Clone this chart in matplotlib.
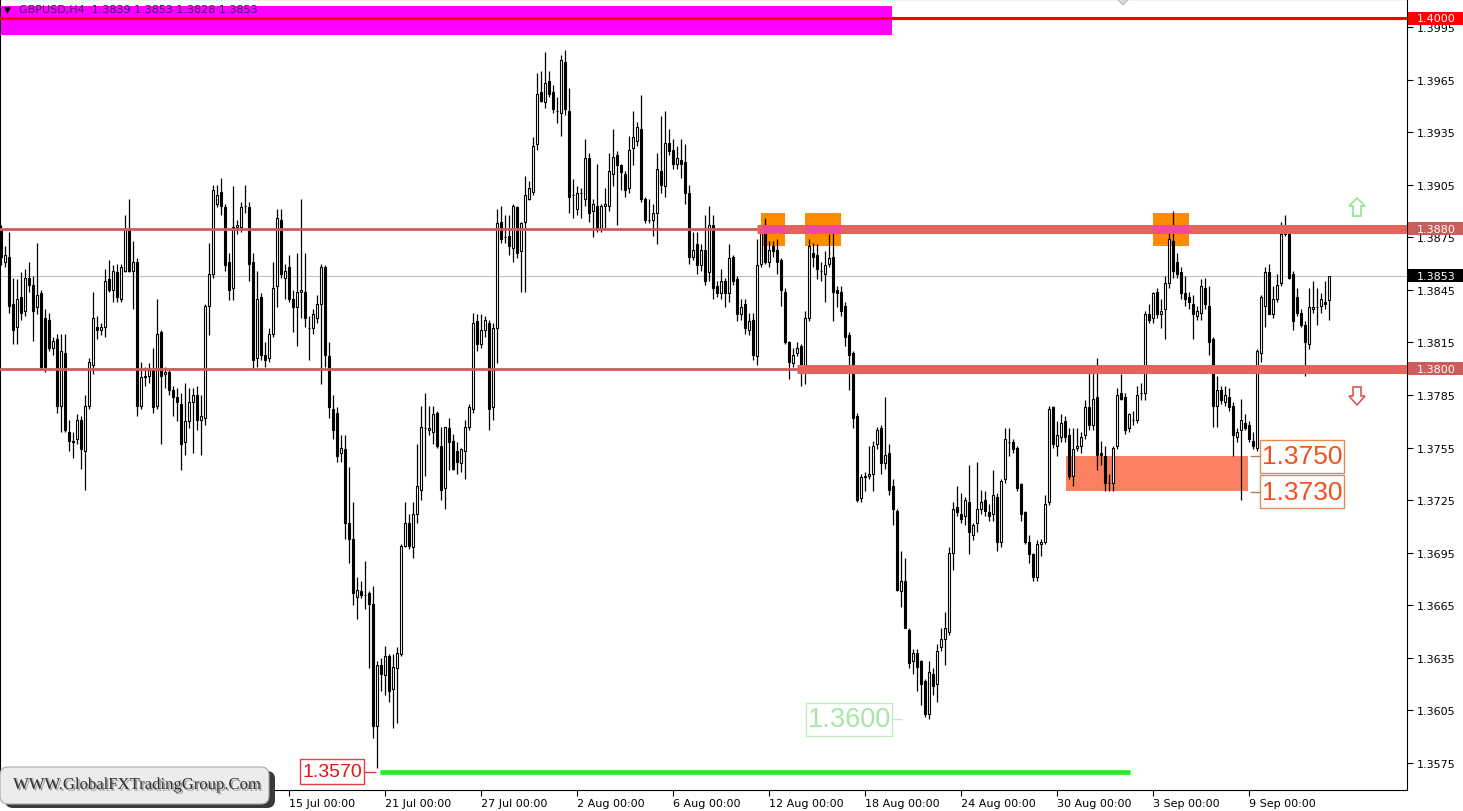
import matplotlib
matplotlib.use('Agg')
import matplotlib.pyplot as plt
import matplotlib.transforms as mtransforms
from matplotlib.patches import Rectangle, FancyBboxPatch, Polygon
import matplotlib.patheffects as pe
import numpy as np

# ---------------- data (GBPUSD H4) ----------------
opens = [
1.3879,1.3861,1.3864,1.3837,1.3824,1.3841,1.3833,1.3852,1.3848,1.3835,
1.3843,1.3829,1.3828,1.3812,1.3817,1.3779,1.3809,1.3764,1.3759,1.3760,
1.3771,1.3753,1.3779,1.3802,1.3824,1.3822,1.3824,1.3851,1.3845,1.3855,
1.3840,1.3856,1.3879,1.3856,1.3861,1.3779,1.3796,1.3796,1.3800,1.3779,
1.3821,1.3797,1.3798,1.3788,1.3784,1.3780,1.3758,1.3770,1.3781,1.3785,
1.3771,1.3772,1.3836,1.3854,1.3894,1.3901,1.3892,1.3861,1.3846,1.3881,
1.3881,1.3893,1.3892,1.3861,1.3806,1.3841,1.3808,1.3806,1.3820,1.3847,
1.3885,1.3852,1.3858,1.3840,1.3835,1.3844,1.3844,1.3823,1.3823,1.3829,
1.3837,1.3858,1.3807,1.3777,1.3775,1.3752,1.3754,1.3712,1.3703,1.3670,
1.3673,1.3671,1.3672,1.3666,1.3596,1.3631,1.3625,1.3636,1.3617,1.3629,
1.3637,1.3699,1.3712,1.3698,1.3717,1.3731,1.3766,1.3765,1.3764,1.3775,
1.3756,1.3732,1.3766,1.3759,1.3753,1.3746,1.3753,1.3767,1.3777,1.3827,
1.3814,1.3822,1.3826,1.3778,1.3823,1.3884,1.3875,1.3876,1.3869,1.3892,
1.3867,1.3884,1.3897,1.3901,1.3928,1.3958,1.3952,1.3964,1.3958,1.3947,
1.3946,1.3975,1.3947,1.3899,1.3891,1.3900,1.3897,1.3920,1.3890,1.3893,
1.3880,1.3893,1.3893,1.3911,1.3922,1.3916,1.3911,1.3903,1.3926,1.3930,
1.3937,1.3897,1.3885,1.3885,1.3889,1.3913,1.3904,1.3929,1.3925,1.3917,
1.3919,1.3918,1.3900,1.3864,1.3871,1.3859,1.3868,1.3855,1.3882,1.3847,
1.3843,1.3850,1.3843,1.3864,1.3851,1.3831,1.3837,1.3822,1.3828,1.3807,
1.3860,1.3878,1.3861,1.3870,1.3868,1.3862,1.3844,1.3815,1.3803,1.3809,
1.3813,1.3800,1.3829,1.3866,1.3865,1.3856,1.3854,1.3860,1.3864,1.3845,
1.3844,1.3836,1.3819,1.3809,1.3773,1.3726,1.3738,1.3739,1.3740,1.3757,
1.3766,1.3746,1.3752,1.3733,1.3719,1.3673,1.3679,1.3651,1.3633,1.3638,
1.3633,1.3622,1.3603,1.3626,1.3620,1.3641,1.3646,1.3650,1.3695,1.3721,
1.3717,1.3716,1.3724,1.3705,1.3712,1.3720,1.3725,1.3718,1.3717,1.3727,
1.3701,1.3737,1.3758,1.3758,1.3755,1.3734,1.3718,1.3701,1.3694,1.3681,
1.3700,1.3701,1.3724,1.3778,1.3756,1.3761,1.3770,1.3762,1.3739,1.3755,
1.3756,1.3762,1.3778,1.3768,1.3784,1.3752,1.3750,1.3735,1.3735,1.3756,
1.3786,1.3784,1.3766,1.3771,1.3771,1.3786,1.3786,1.3831,1.3829,1.3844,
1.3831,1.3834,1.3849,1.3873,1.3861,1.3855,1.3843,1.3841,1.3837,1.3830,
1.3832,1.3846,1.3836,1.3817,1.3779,1.3788,1.3781,1.3784,1.3779,1.3761,
1.3765,1.3769,1.3768,1.3759,1.3755,1.3809,1.3836,1.3855,1.3831,1.3840,
1.3849,1.3881,1.3877,1.3854,1.3841,1.3832,1.3825,1.3814,1.3834,1.3835,
1.3836,1.3838,1.3839]

highs = [
1.3882,1.3870,1.3878,1.3852,1.3851,1.3855,1.3857,1.3861,1.3853,1.3872,
1.3845,1.3834,1.3832,1.3818,1.3820,1.3820,1.3820,1.3771,1.3764,1.3774,
1.3773,1.3785,1.3806,1.3844,1.3830,1.3826,1.3857,1.3862,1.3859,1.3860,
1.3860,1.3888,1.3897,1.3873,1.3863,1.3804,1.3801,1.3803,1.3812,1.3840,
1.3822,1.3801,1.3800,1.3790,1.3789,1.3786,1.3792,1.3789,1.3789,1.3790,
1.3785,1.3837,1.3872,1.3905,1.3905,1.3909,1.3894,1.3866,1.3904,1.3885,
1.3895,1.3905,1.3895,1.3866,1.3856,1.3843,1.3815,1.3823,1.3861,1.3891,
1.3891,1.3860,1.3865,1.3845,1.3866,1.3897,1.3866,1.3830,1.3834,1.3842,
1.3860,1.3859,1.3815,1.3785,1.3778,1.3762,1.3762,1.3744,1.3724,1.3681,
1.3679,1.3690,1.3673,1.3676,1.3633,1.3635,1.3642,1.3637,1.3637,1.3641,
1.3700,1.3724,1.3717,1.3724,1.3757,1.3779,1.3786,1.3779,1.3779,1.3776,
1.3767,1.3767,1.3772,1.3763,1.3758,1.3755,1.3771,1.3780,1.3832,1.3831,
1.3831,1.3830,1.3828,1.3826,1.3891,1.3893,1.3888,1.3888,1.3894,1.3893,
1.3884,1.3910,1.3907,1.3932,1.3969,1.3970,1.3981,1.3970,1.3962,1.3955,
1.3979,1.3982,1.3960,1.3908,1.3904,1.3903,1.3931,1.3923,1.3897,1.3917,
1.3894,1.3903,1.3923,1.3937,1.3924,1.3917,1.3913,1.3933,1.3947,1.3941,
1.3956,1.3898,1.3897,1.3894,1.3923,1.3944,1.3947,1.3937,1.3931,1.3927,
1.3931,1.3928,1.3905,1.3878,1.3878,1.3871,1.3888,1.3893,1.3888,1.3850,
1.3857,1.3852,1.3871,1.3865,1.3853,1.3840,1.3840,1.3832,1.3832,1.3874,
1.3882,1.3886,1.3873,1.3873,1.3874,1.3863,1.3846,1.3816,1.3812,1.3815,
1.3814,1.3833,1.3874,1.3872,1.3871,1.3861,1.3867,1.3877,1.3878,1.3847,
1.3847,1.3838,1.3821,1.3810,1.3775,1.3740,1.3741,1.3756,1.3759,1.3767,
1.3768,1.3784,1.3757,1.3737,1.3720,1.3696,1.3692,1.3652,1.3640,1.3640,
1.3634,1.3623,1.3633,1.3629,1.3643,1.3652,1.3661,1.3698,1.3724,1.3733,
1.3729,1.3727,1.3745,1.3712,1.3747,1.3731,1.3730,1.3723,1.3742,1.3729,
1.3737,1.3766,1.3766,1.3760,1.3756,1.3735,1.3719,1.3705,1.3695,1.3702,
1.3703,1.3728,1.3779,1.3779,1.3770,1.3774,1.3773,1.3766,1.3766,1.3766,
1.3764,1.3782,1.3798,1.3798,1.3806,1.3759,1.3756,1.3740,1.3756,1.3789,
1.3797,1.3786,1.3775,1.3776,1.3790,1.3792,1.3833,1.3837,1.3844,1.3846,
1.3840,1.3853,1.3882,1.3890,1.3866,1.3858,1.3853,1.3844,1.3842,1.3836,
1.3851,1.3852,1.3847,1.3818,1.3796,1.3790,1.3790,1.3789,1.3781,1.3766,
1.3783,1.3774,1.3770,1.3764,1.3811,1.3842,1.3858,1.3860,1.3847,1.3854,
1.3884,1.3888,1.3879,1.3856,1.3846,1.3834,1.3827,1.3846,1.3850,1.3846,
1.3843,1.3850,1.3853]

lows = [
1.3859,1.3858,1.3832,1.3814,1.3814,1.3828,1.3830,1.3844,1.3816,1.3831,
1.3800,1.3798,1.3810,1.3808,1.3775,1.3764,1.3764,1.3753,1.3749,1.3757,
1.3743,1.3731,1.3777,1.3797,1.3817,1.3819,1.3818,1.3844,1.3838,1.3838,
1.3838,1.3855,1.3855,1.3834,1.3773,1.3777,1.3790,1.3792,1.3775,1.3777,
1.3757,1.3789,1.3785,1.3773,1.3770,1.3742,1.3751,1.3766,1.3752,1.3765,
1.3751,1.3768,1.3819,1.3852,1.3892,1.3888,1.3856,1.3839,1.3839,1.3877,
1.3878,1.3889,1.3850,1.3800,1.3801,1.3805,1.3801,1.3804,1.3818,1.3835,
1.3852,1.3840,1.3838,1.3821,1.3813,1.3829,1.3824,1.3805,1.3820,1.3826,
1.3791,1.3801,1.3772,1.3760,1.3747,1.3747,1.3703,1.3689,1.3665,1.3657,
1.3669,1.3663,1.3629,1.3589,1.3572,1.3616,1.3614,1.3610,1.3595,1.3598,
1.3636,1.3698,1.3697,1.3692,1.3712,1.3725,1.3739,1.3762,1.3757,1.3755,
1.3725,1.3720,1.3742,1.3742,1.3740,1.3741,1.3737,1.3765,1.3775,1.3810,
1.3812,1.3818,1.3765,1.3771,1.3803,1.3872,1.3872,1.3865,1.3861,1.3863,
1.3844,1.3844,1.3896,1.3899,1.3925,1.3952,1.3949,1.3955,1.3946,1.3940,
1.3933,1.3945,1.3889,1.3886,1.3888,1.3886,1.3893,1.3884,1.3875,1.3878,
1.3878,1.3880,1.3890,1.3904,1.3882,1.3902,1.3898,1.3900,1.3916,1.3927,
1.3895,1.3883,1.3883,1.3876,1.3871,1.3900,1.3898,1.3922,1.3914,1.3914,
1.3909,1.3894,1.3860,1.3862,1.3854,1.3856,1.3848,1.3850,1.3840,1.3841,
1.3840,1.3835,1.3838,1.3848,1.3827,1.3828,1.3820,1.3819,1.3805,1.3802,
1.3858,1.3860,1.3858,1.3864,1.3854,1.3836,1.3814,1.3794,1.3801,1.3807,
1.3790,1.3791,1.3827,1.3858,1.3851,1.3850,1.3838,1.3858,1.3827,1.3835,
1.3830,1.3813,1.3788,1.3766,1.3724,1.3724,1.3730,1.3737,1.3730,1.3754,
1.3740,1.3743,1.3728,1.3711,1.3673,1.3664,1.3652,1.3629,1.3626,1.3616,
1.3608,1.3601,1.3600,1.3614,1.3610,1.3639,1.3631,1.3648,1.3685,1.3716,
1.3712,1.3711,1.3694,1.3702,1.3707,1.3717,1.3716,1.3713,1.3713,1.3696,
1.3698,1.3735,1.3750,1.3752,1.3730,1.3713,1.3700,1.3689,1.3679,1.3679,
1.3693,1.3700,1.3722,1.3755,1.3750,1.3758,1.3758,1.3737,1.3733,1.3753,
1.3752,1.3760,1.3765,1.3765,1.3742,1.3745,1.3730,1.3730,1.3730,1.3754,
1.3782,1.3763,1.3764,1.3768,1.3769,1.3782,1.3782,1.3826,1.3826,1.3829,
1.3823,1.3817,1.3846,1.3852,1.3852,1.3840,1.3836,1.3834,1.3817,1.3828,
1.3828,1.3834,1.3808,1.3767,1.3767,1.3780,1.3779,1.3776,1.3750,1.3758,
1.3725,1.3765,1.3758,1.3754,1.3753,1.3804,1.3824,1.3831,1.3829,1.3838,
1.3847,1.3876,1.3851,1.3822,1.3830,1.3824,1.3796,1.3811,1.3832,1.3825,
1.3832,1.3834,1.3828]

closes = [
1.3864,1.3865,1.3836,1.3822,1.3840,1.3832,1.3852,1.3848,1.3833,1.3842,
1.3801,1.3801,1.3812,1.3816,1.3779,1.3810,1.3765,1.3759,1.3758,1.3771,
1.3754,1.3779,1.3804,1.3829,1.3822,1.3824,1.3850,1.3845,1.3856,1.3841,
1.3858,1.3880,1.3856,1.3861,1.3779,1.3795,1.3795,1.3799,1.3778,1.3820,
1.3796,1.3798,1.3788,1.3784,1.3781,1.3757,1.3770,1.3781,1.3785,1.3771,
1.3773,1.3836,1.3854,1.3902,1.3899,1.3893,1.3859,1.3845,1.3881,1.3882,
1.3892,1.3893,1.3860,1.3805,1.3840,1.3808,1.3805,1.3820,1.3846,1.3886,
1.3854,1.3856,1.3840,1.3835,1.3844,1.3845,1.3829,1.3823,1.3831,1.3837,
1.3858,1.3808,1.3778,1.3765,1.3750,1.3755,1.3712,1.3703,1.3672,1.3674,
1.3671,1.3671,1.3666,1.3596,1.3631,1.3626,1.3636,1.3616,1.3630,1.3638,
1.3699,1.3712,1.3699,1.3717,1.3733,1.3767,1.3766,1.3766,1.3774,1.3756,
1.3731,1.3767,1.3758,1.3743,1.3747,1.3754,1.3767,1.3778,1.3826,1.3814,
1.3822,1.3828,1.3777,1.3823,1.3883,1.3874,1.3875,1.3870,1.3893,1.3866,
1.3883,1.3899,1.3903,1.3927,1.3957,1.3953,1.3963,1.3957,1.3948,1.3947,
1.3976,1.3948,1.3898,1.3899,1.3900,1.3900,1.3920,1.3889,1.3894,1.3879,
1.3893,1.3894,1.3913,1.3921,1.3916,1.3912,1.3902,1.3925,1.3932,1.3938,
1.3897,1.3885,1.3885,1.3889,1.3914,1.3905,1.3929,1.3924,1.3917,1.3920,
1.3917,1.3900,1.3864,1.3868,1.3859,1.3868,1.3850,1.3882,1.3846,1.3843,
1.3850,1.3843,1.3863,1.3850,1.3831,1.3835,1.3823,1.3827,1.3808,1.3859,
1.3878,1.3861,1.3868,1.3867,1.3861,1.3845,1.3815,1.3804,1.3808,1.3812,
1.3801,1.3829,1.3870,1.3864,1.3857,1.3856,1.3859,1.3863,1.3844,1.3843,
1.3833,1.3818,1.3808,1.3772,1.3725,1.3738,1.3739,1.3740,1.3756,1.3765,
1.3746,1.3751,1.3731,1.3720,1.3674,1.3679,1.3652,1.3632,1.3638,1.3630,
1.3620,1.3603,1.3627,1.3619,1.3639,1.3646,1.3652,1.3695,1.3720,1.3718,
1.3714,1.3725,1.3707,1.3711,1.3720,1.3724,1.3719,1.3716,1.3728,1.3701,
1.3736,1.3760,1.3758,1.3754,1.3732,1.3717,1.3701,1.3694,1.3681,1.3700,
1.3701,1.3723,1.3777,1.3757,1.3762,1.3769,1.3761,1.3739,1.3754,1.3756,
1.3761,1.3778,1.3768,1.3783,1.3751,1.3751,1.3735,1.3735,1.3755,1.3785,
1.3783,1.3765,1.3774,1.3771,1.3785,1.3786,1.3831,1.3828,1.3843,1.3831,
1.3833,1.3849,1.3874,1.3856,1.3854,1.3843,1.3840,1.3838,1.3831,1.3833,
1.3847,1.3837,1.3815,1.3779,1.3788,1.3782,1.3785,1.3778,1.3762,1.3764,
1.3771,1.3766,1.3760,1.3756,1.3810,1.3841,1.3855,1.3831,1.3840,1.3848,
1.3877,1.3877,1.3852,1.3827,1.3832,1.3825,1.3815,1.3835,1.3835,1.3835,
1.3840,1.3837,1.3853]

assert len(opens) == len(highs) == len(lows) == len(closes)

tick_bars = [72, 96, 120, 144, 168, 192, 216, 240, 264, 288, 312]
tick_dates = ['15 Jul 00:00', '21 Jul 00:00', '27 Jul 00:00', '2 Aug 00:00',
              '6 Aug 00:00', '12 Aug 00:00', '18 Aug 00:00', '24 Aug 00:00',
              '30 Aug 00:00', '3 Sep 00:00', '9 Sep 00:00']
price_ticks = [1.3575, 1.3605, 1.3635, 1.3665, 1.3695, 1.3725, 1.3755, 1.3785,
               1.3815, 1.3845, 1.3875, 1.3905, 1.3935, 1.3965, 1.3995]

level_top = 1.4000
resistance = 1.3880
support = 1.3800
zone_hi, zone_lo = 1.3750, 1.3730
target = 1.3600
swing_low = 1.3570
symbol = 'GBPUSD,H4'

# ---------------- figure ----------------
W, H = 1463, 812
fig = plt.figure(figsize=(W / 100, H / 100), dpi=100)
fig.patch.set_facecolor('white')

PX = 1 / 17524.0          # price per pixel
AX_R, AX_B = 1407, 791
ax = fig.add_axes([0, (H - AX_B) / H, AX_R / W, AX_B / H])
ax.set_ylim(1.3995 - (AX_B - 28) * PX, 1.3995 + 28 * PX)
ax.set_xlim(-0.25, 351.5)
ax.set_facecolor('white')

o = np.array(opens); h = np.array(highs); l = np.array(lows); c = np.array(closes)
x = np.arange(len(c))
up = c >= o
bot = np.minimum(o, c)
hgt = np.abs(c - o)

# zones / boxes behind candles
ax.add_patch(Rectangle((-0.25, 1.3995 - 8 * PX), 223.0, 29 * PX,
                       fc='#FF00FF', ec='none', zorder=1))
ax.add_patch(Rectangle((266.25, zone_lo), 45.5, zone_hi - zone_lo,
                       fc='#FA8060', ec='none', zorder=1))
for x0, x1 in [(190, 196), (201, 210), (288, 297)]:
    ax.add_patch(Rectangle((x0, 1.3870), x1 - x0, 0.0019,
                           fc='#FF8C00', ec='none', zorder=1.5))

ax.axhline(c[-1], color='#C0C0C0', lw=0.8, zorder=2)

# candles
ax.vlines(x, l, h, color='black', lw=0.9, zorder=3)
ax.bar(x[up], hgt[up], bottom=bot[up], width=0.58, facecolor='white',
       edgecolor='black', linewidth=0.8, zorder=4)
ax.bar(x[~up], hgt[~up], bottom=bot[~up], width=0.58, facecolor='black',
       edgecolor='black', linewidth=0.8, zorder=4)

# horizontal levels
ax.axhline(level_top, color='#FF0000', lw=2.2, zorder=6)
ax.axhline(resistance, color='#CD5C5C', lw=2.0, zorder=5)
ax.axhline(support, color='#CD5C5C', lw=2.0, zorder=5)
ax.hlines(resistance, 189, 351.5, color='#E2645C', lw=6.5, zorder=5.2)
ax.hlines(support, 199, 351.5, color='#E2645C', lw=6.5, zorder=5.2)
for x0, x1 in [(190, 196), (201, 210), (288, 297)]:
    ax.hlines(resistance, x0, x1, color='#F04A9A', lw=6.5, zorder=5.4)
ax.hlines(swing_low, 94.75, 282.25, color='#22EE22', lw=3.4, zorder=5)


def price_box(x0, x1, level, half_px, txt, tcolor, ecolor, fs, conn, ccolor):
    ax.add_patch(Rectangle((x0, level - half_px * PX), x1 - x0, 2 * half_px * PX,
                           fc='white', ec=ecolor, lw=1.0, zorder=7))
    ax.text((x0 + x1) / 2, level, txt, ha='center', va='center', color=tcolor,
            fontsize=fs, family='Liberation Sans', zorder=8)
    ax.hlines(level, conn[0], conn[1], color=ccolor, lw=1.0, zorder=7)


price_box(314.75, 335.75, zone_hi, 16.5, f'{zone_hi:.4f}', '#F0501E', '#E58A50', 19,
          (312.25, 314.75), '#B08060')
price_box(314.75, 335.75, zone_lo - 0.6 * PX, 16.5, f'{zone_lo:.4f}', '#F0501E', '#E58A50', 19,
          (312.25, 314.75), '#B08060')
price_box(201.25, 222.75, target, 16.5, f'{target:.4f}', '#A6E6A6', '#C4ECC4', 19.5,
          (222.75, 225.25), '#C4E4C4')
price_box(74.75, 90.75, swing_low, 12.5, f'{swing_low:.4f}', '#E01414', '#E04040', 14,
          (90.75, 93.75), '#D04040')

# axes styling
for s in ax.spines.values():
    s.set_color('black'); s.set_linewidth(0.8)
ax.yaxis.tick_right()
ax.set_yticks(price_ticks)
ax.set_yticklabels([f'{p:.4f}' for p in price_ticks])
ax.set_xticks(tick_bars)
ax.set_xticklabels(tick_dates)
for lbl in ax.get_xticklabels():
    lbl.set_ha('left')
ax.tick_params(axis='both', direction='out', length=4, width=0.8, labelsize=8,
               colors='black', pad=3)
ax.tick_params(axis='x', pad=1.5)

# right axis price tags
blend = mtransforms.blended_transform_factory(fig.transFigure, ax.transData)
for lvl, fc in [(level_top, '#FF0000'), (resistance, '#CD5C5C'),
                (c[-1], '#000000'), (support, '#CD5C5C')]:
    ax.add_patch(Rectangle((1408 / W, lvl - 6.5 * PX), 55 / W, 13 * PX, fc=fc, ec='none',
                           transform=blend, clip_on=False, zorder=10))
    ax.text(1436 / W, lvl, f'{lvl:.4f}', transform=blend, ha='center', va='center',
            color='white', fontsize=8, clip_on=False, zorder=11)

# pixel-space decorations
def P(xp, yp):
    return (xp / 100.0, (H - yp) / 100.0)

up_arrow = [P(1357, 199), P(1365, 207), P(1361, 207), P(1361, 217),
            P(1353, 217), P(1353, 207), P(1349, 207)]
dn_arrow = [P(1353, 388), P(1361, 388), P(1361, 397), P(1365, 397),
            P(1357, 406), P(1349, 397), P(1353, 397)]
fig.add_artist(Polygon(up_arrow, closed=True, fc='white', ec='#8EE88E', lw=1.2,
                       transform=fig.dpi_scale_trans, zorder=12))
fig.add_artist(Polygon(dn_arrow, closed=True, fc='white', ec='#E05555', lw=1.2,
                       transform=fig.dpi_scale_trans, zorder=12))
fig.add_artist(Polygon([P(1117, 0), P(1129, 0), P(1123, 6)], closed=True,
                       fc='#D8D8D8', ec='#B0B0B0', lw=0.6,
                       transform=fig.dpi_scale_trans, zorder=12))

# header
fig.text(4 / W, 1 - 10 / H, '\u25BC', fontsize=6.5, color='black', va='center', ha='left')
fig.text(19 / W, 1 - 10 / H,
         f'{symbol}  {o[-1]:.4f} {h[-1]:.4f} {l[-1]:.4f} {c[-1]:.4f}',
         fontsize=8, color='#3C1E64', va='center', ha='left')

# watermark
shadow = FancyBboxPatch((0.05, 0.03), 2.70, 0.37,
                        boxstyle='round,pad=0,rounding_size=0.08',
                        transform=fig.dpi_scale_trans, fc='#3a3a3a', ec='none', zorder=20)
box = FancyBboxPatch((0.0, 0.07), 2.69, 0.37,
                     boxstyle='round,pad=0,rounding_size=0.08',
                     transform=fig.dpi_scale_trans, fc='#ECECEC', ec='#A8A8A8', lw=0.8,
                     zorder=21)
fig.add_artist(shadow)
fig.add_artist(box)
fig.text(137 / W, 1 - 786 / H, 'WWW.GlobalFXTradingGroup.Com', ha='center', va='center',
         fontsize=12, family='Liberation Serif', color='#2E2E2E', zorder=22,
         path_effects=[pe.withSimplePatchShadow(offset=(1.2, -1.2), shadow_rgbFace='#8a8a8a',
                                                alpha=0.8)])

fig.savefig('out.png', dpi=100, facecolor='white')
